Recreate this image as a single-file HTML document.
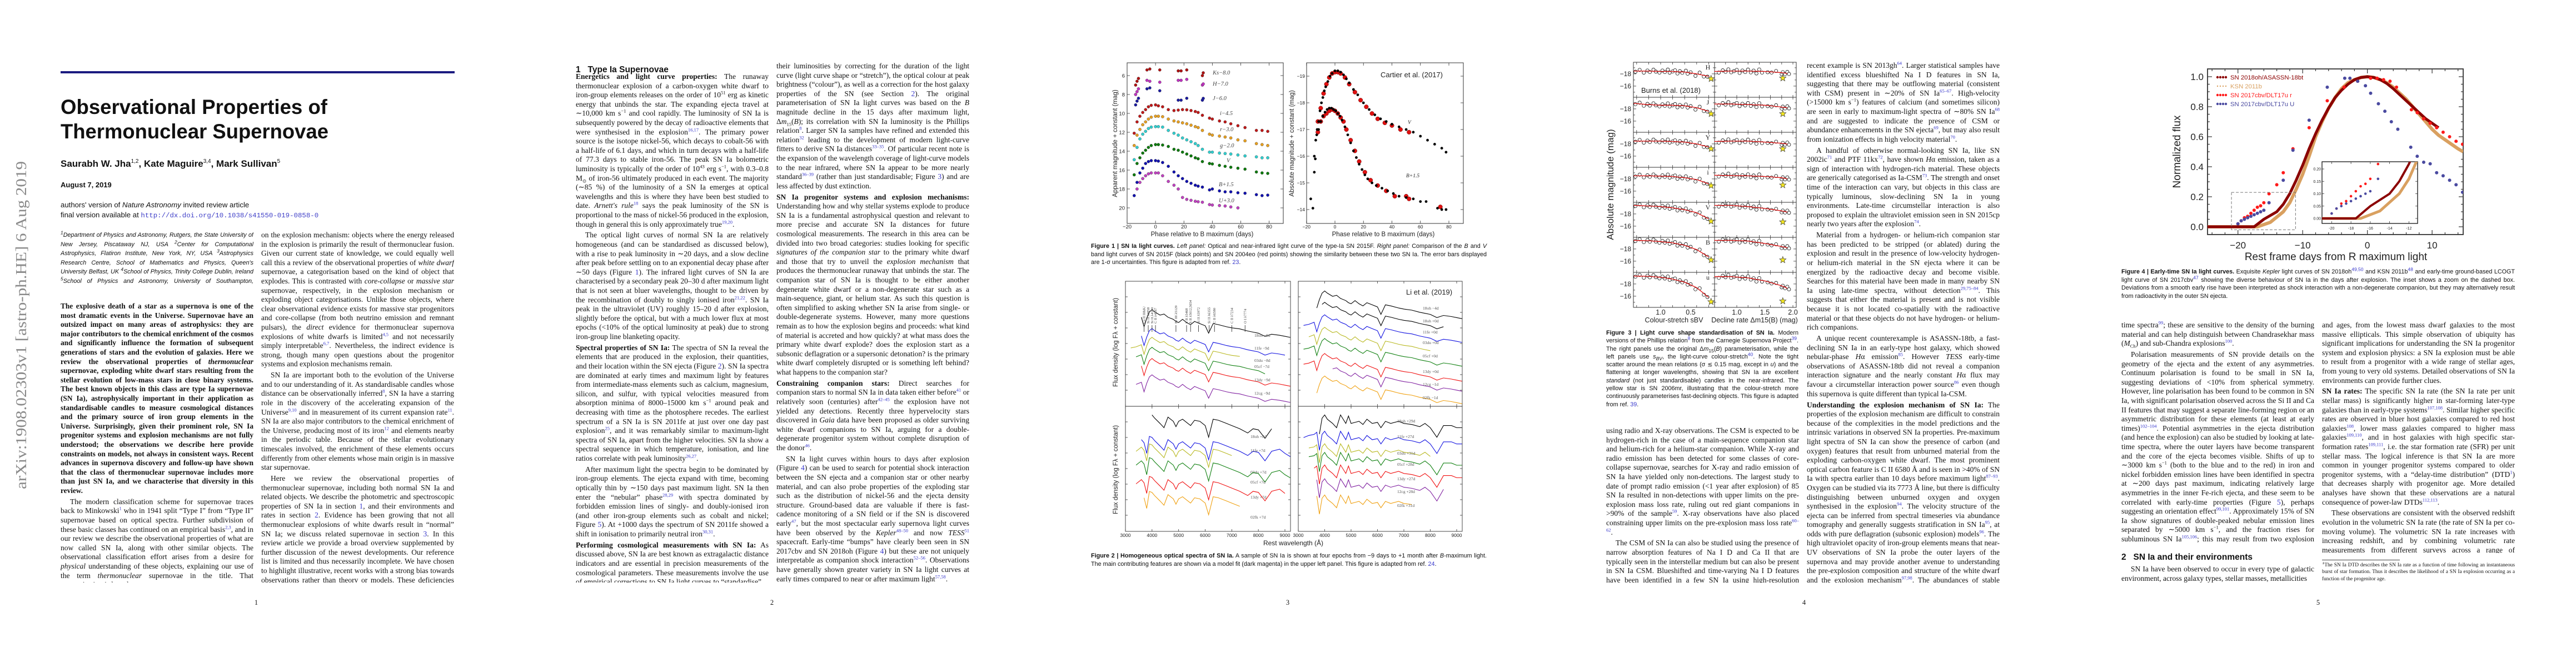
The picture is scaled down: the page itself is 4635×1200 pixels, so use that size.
<!DOCTYPE html>
<html><head><meta charset="utf-8">
<style>
body{margin:0;width:4635px;height:1200px;background:#fff;position:relative;overflow:hidden}
.col{position:absolute;width:347px;font-family:"Liberation Serif",serif;font-size:13.5px;line-height:16.6px;text-align:justify;color:#111;overflow:hidden}
.col p{margin:0}
.col p+p{margin-top:3.3px}
.ind{text-indent:17px}
sup,sub{font-size:8.5px;line-height:0}
.r{color:#3a3acc}
.aff{font-family:"Liberation Sans",sans-serif;font-style:italic;font-size:10.8px}
.cap{position:absolute;font-family:"Liberation Sans",sans-serif;font-size:10.8px;line-height:14.5px;text-align:justify;color:#111}
.pn{position:absolute;top:1077px;width:20px;text-align:center;font:12.5px "Liberation Serif",serif;color:#111}
.h{position:absolute;font-family:"Liberation Sans",sans-serif;font-weight:bold;font-size:15.5px;color:#111}
svg{position:absolute;left:0;top:0}
</style></head>
<body>

<!-- PAGE 1 -->
<div style="position:absolute;left:109px;top:128px;width:709px;height:4px;background:#1b1b80"></div>
<div class="col aff" style="left:109px;top:415px;height:100px">
<sup>1</sup>Department of Physics and Astronomy, Rutgers, the State University of New Jersey, Piscataway NJ, USA <sup>2</sup>Center for Computational Astrophysics, Flatiron Institute, New York, NY, USA <sup>3</sup>Astrophysics Research Centre, School of Mathematics and Physics, Queen's University Belfast, UK <sup>4</sup>School of Physics, Trinity College Dublin, Ireland <sup>5</sup>School of Physics and Astronomy, University of Southampton, Southampton, SO17 1BJ, UK
</div>
<div class="col" style="left:109px;top:543px;height:505px">
<p style="font-size:13.3px"><b>The explosive death of a star as a supernova is one of the most dramatic events in the Universe. Supernovae have an outsized impact on many areas of astrophysics: they are major contributors to the chemical enrichment of the cosmos and significantly influence the formation of subsequent generations of stars and the evolution of galaxies. Here we review the observational properties of <i>thermonuclear</i> supernovae, exploding white dwarf stars resulting from the stellar evolution of low-mass stars in close binary systems. The best known objects in this class are type Ia supernovae (SN Ia), astrophysically important in their application as standardisable candles to measure cosmological distances and the primary source of iron group elements in the Universe. Surprisingly, given their prominent role, SN Ia progenitor systems and explosion mechanisms are not fully understood; the observations we describe here provide constraints on models, not always in consistent ways. Recent advances in supernova discovery and follow-up have shown that the class of thermonuclear supernovae includes more than just SN Ia, and we characterise that diversity in this review.</b></p>
<p class="ind">The modern classification scheme for supernovae traces back to Minkowski<sup class="r">1</sup> who in 1941 split “Type I” from “Type II” supernovae based on optical spectra. Further subdivision of these basic classes has continued on an empirical basis<sup class="r">2,3</sup>, and in our review we describe the observational properties of what are now called SN Ia, along with other similar objects. The observational classification effort arises from a desire for <i>physical</i> understanding of these objects, explaining our use of the term <i>thermonuclear</i> supernovae in the title. That categorisation is based</p>
</div>
<div class="col" style="left:470px;top:415px;height:633px">
<p>on the explosion mechanism: objects where the energy released in the explosion is primarily the result of thermonuclear fusion. Given our current state of knowledge, we could equally well call this a review of the observational properties of <i>white dwarf</i> supernovae, a categorisation based on the kind of object that explodes. This is contrasted with <i>core-collapse</i> or <i>massive star</i> supernovae, respectively, in the explosion mechanism or exploding object categorisations. Unlike those objects, where clear observational evidence exists for massive star progenitors and core-collapse (from both neutrino emission and remnant pulsars), the <i>direct</i> evidence for thermonuclear supernova explosions of white dwarfs is limited<sup class="r">4,5</sup> and not necessarily simply interpretable<sup class="r">6,7</sup>. Nevertheless, the indirect evidence is strong, though many open questions about the progenitor systems and explosion mechanisms remain.</p>
<p class="ind">SN Ia are important both to the evolution of the Universe and to our understanding of it. As standardisable candles whose distance can be observationally inferred<sup class="r">8</sup>, SN Ia have a starring role in the discovery of the accelerating expansion of the Universe<sup class="r">9,10</sup> and in measurement of its current expansion rate<sup class="r">11</sup>. SN Ia are also major contributors to the chemical enrichment of the Universe, producing most of its iron<sup class="r">12</sup> and elements nearby in the periodic table. Because of the stellar evolutionary timescales involved, the enrichment of these elements occurs differently from other elements whose main origin is in massive star supernovae.</p>
<p class="ind">Here we review the observational properties of thermonuclear supernovae, including both normal SN Ia and related objects. We describe the photometric and spectroscopic properties of SN Ia in section <span class="r">1</span>, and their environments and rates in section <span class="r">2</span>. Evidence has been growing that not all thermonuclear explosions of white dwarfs result in “normal” SN Ia; we discuss related supernovae in section <span class="r">3</span>. In this review article we provide a broad overview supplemented by further discussion of the newest developments. Our reference list is limited and thus necessarily incomplete. We have chosen to highlight illustrative, recent works with a strong bias towards observations rather than theory or models. These deficiencies are rectified in recent reviews that cover many of these topics in more detail<sup class="r">13–15</sup>.</p>
</div>
<div class="pn" style="left:451px">1</div>

<!-- PAGE 2 -->
<div class="h" style="left:1036px;top:117px">1&nbsp;&nbsp;&nbsp;Type Ia Supernovae</div>
<div class="col" style="left:1036px;top:130px;height:918px">
<p><b>Energetics and light curve properties:</b> The runaway thermonuclear explosion of a carbon-oxygen white dwarf to iron-group elements releases on the order of 10<sup>51</sup> erg as kinetic energy that unbinds the star. The expanding ejecta travel at ∼10,000 km s<sup>−1</sup> and cool rapidly. The luminosity of SN Ia is subsequently powered by the decay of radioactive elements that were synthesised in the explosion<sup class="r">16,17</sup>. The primary power source is the isotope nickel-56, which decays to cobalt-56 with a half-life of 6.1 days, and which in turn decays with a half-life of 77.3 days to stable iron-56. The peak SN Ia bolometric luminosity is typically of the order of 10<sup>43</sup> erg s<sup>−1</sup>, with 0.3–0.8 M<sub>⊙</sub> of iron-56 ultimately produced in each event. The majority (∼85 %) of the luminosity of a SN Ia emerges at optical wavelengths and this is where they have been best studied to date. <i>Arnett's rule</i><sup class="r">18</sup> says the peak luminosity of the SN is proportional to the mass of nickel-56 produced in the explosion, though in general this is only approximately true<sup class="r">19,20</sup>.</p>
<p class="ind">The optical light curves of normal SN Ia are relatively homogeneous (and can be standardised as discussed below), with a rise to peak luminosity in ∼20 days, and a slow decline after peak before settling on to an exponential decay phase after ∼50 days (Figure <span class="r">1</span>). The infrared light curves of SN Ia are characterised by a secondary peak 20–30 d after maximum light that is not seen at bluer wavelengths, thought to be driven by the recombination of doubly to singly ionised iron<sup class="r">21,22</sup>. SN Ia peak in the ultraviolet (UV) roughly 15–20 d after explosion, slightly before the optical, but with a much lower flux at most epochs (&lt;10% of the optical luminosity at peak) due to strong iron-group line blanketing opacity.</p>
<p><b>Spectral properties of SN Ia:</b> The spectra of SN Ia reveal the elements that are produced in the explosion, their quantities, and their location within the SN ejecta (Figure <span class="r">2</span>). SN Ia spectra are dominated at early times and maximum light by features from intermediate-mass elements such as calcium, magnesium, silicon, and sulfur, with typical velocities measured from absorption minima of 8000–15000 km s<sup>−1</sup> around peak and decreasing with time as the photosphere recedes. The earliest spectrum of a SN Ia is SN 2011fe at just over one day past explosion<sup class="r">25</sup>, and it was remarkably similar to maximum-light spectra of SN Ia, apart from the higher velocities. SN Ia show a spectral sequence in which temperature, ionisation, and line ratios correlate with peak luminosity<sup class="r">26,27</sup>.</p>
<p class="ind">After maximum light the spectra begin to be dominated by iron-group elements. The ejecta expand with time, becoming optically thin by ∼150 days past maximum light. SN Ia then enter the “nebular” phase<sup class="r">28,29</sup> with spectra dominated by forbidden emission lines of singly- and doubly-ionised iron (and other iron-group elements such as cobalt and nickel; Figure <span class="r">5</span>). At +1000 days the spectrum of SN 2011fe showed a shift in ionisation to primarily neutral iron<sup class="r">30,31</sup>.</p>
<p><b>Performing cosmological measurements with SN Ia:</b> As discussed above, SN Ia are best known as extragalactic distance indicators and are essential in precision measurements of the cosmological parameters. These measurements involve the use of empirical corrections to SN Ia light curves to “standardise”</p>
</div>
<div class="col" style="left:1397px;top:111px;height:937px">
<p>their luminosities by correcting for the duration of the light curve (light curve shape or “stretch”), the optical colour at peak brightness (“colour”), as well as a correction for the host galaxy properties of the SN (see Section <span class="r">2</span>). The original parameterisation of SN Ia light curves was based on the <i>B</i> magnitude decline in the 15 days after maximum light, Δ<i>m</i><sub>15</sub>(<i>B</i>); its correlation with SN Ia luminosity is the Phillips relation<sup class="r">8</sup>. Larger SN Ia samples have refined and extended this relation<sup class="r">32</sup> leading to the development of modern light-curve fitters to derive SN Ia distances<sup class="r">33–35</sup>. Of particular recent note is the expansion of the wavelength coverage of light-curve models to the near infrared, where SN Ia appear to be more nearly standard<sup class="r">36–39</sup> (rather than just standardisable; Figure <span class="r">3</span>) and are less affected by dust extinction.</p>
<p><b>SN Ia progenitor systems and explosion mechanisms:</b> Understanding how and why stellar systems explode to produce SN Ia is a fundamental astrophysical question and relevant to more precise and accurate SN Ia distances for future cosmological measurements. The research in this area can be divided into two broad categories: studies looking for specific <i>signatures of the companion star</i> to the primary white dwarf and those that try to unveil the <i>explosion mechanism</i> that produces the thermonuclear runaway that unbinds the star. The companion star of SN Ia is thought to be either another degenerate white dwarf or a non-degenerate star such as a main-sequence, giant, or helium star. As such this question is often simplified to asking whether SN Ia arise from single- or double-degenerate systems. However, many more questions remain as to how the explosion begins and proceeds: what kind of material is accreted and how quickly? at what mass does the primary white dwarf explode? does the explosion start as a subsonic deflagration or a supersonic detonation? is the primary white dwarf completely disrupted or is something left behind? what happens to the companion star?</p>
<p><b>Constraining companion stars:</b> Direct searches for companion stars to normal SN Ia in data taken either before<sup class="r">41</sup> or relatively soon (centuries) after<sup class="r">42–45</sup> the explosion have not yielded any detections. Recently three hypervelocity stars discovered in <i>Gaia</i> data have been proposed as older surviving white dwarf companions to SN Ia, arguing for a double-degenerate progenitor system without complete disruption of the donor<sup class="r">46</sup>.</p>
<p class="ind">SN Ia light curves within hours to days after explosion (Figure <span class="r">4</span>) can be used to search for potential shock interaction between the SN ejecta and a companion star or other nearby material, and can also probe properties of the exploding star such as the distribution of nickel-56 and the ejecta density structure. Ground-based data are valuable if there is fast-cadence monitoring of a SN field or if the SN is discovered early<sup class="r">47</sup>, but the most spectacular early supernova light curves have been observed by the <i>Kepler</i><sup class="r">48–50</sup> and now <i>TESS</i><sup class="r">51</sup> spacecraft. Early-time “bumps” have clearly been seen in SN 2017cbv and SN 2018oh (Figure <span class="r">4</span>) but these are not uniquely interpretable as companion shock interaction<sup class="r">52–56</sup>. Observations have generally shown greater variety in SN Ia light curves at early times compared to near or after maximum light<sup class="r">57,58</sup>.</p>
<p class="ind">The presence of circumstellar material (CSM), more likely to arise in the single-degenerate scenario, can be investigated</p>
</div>
<div class="pn" style="left:1379px">2</div>

<!-- PAGE 3 captions -->
<div class="cap" style="left:1963px;top:436px;width:712px"><b>Figure 1 | SN Ia light curves.</b> <i>Left panel:</i> Optical and near-infrared light curve of the type-Ia SN 2015F. <i>Right panel:</i> Comparison of the <i>B</i> and <i>V</i> band light curves of SN 2015F (black points) and SN 2004eo (red points) showing the similarity between these two SN Ia. The error bars displayed are 1-σ uncertainties. This figure is adapted from ref. <span class="r">23</span>.</div>
<div class="cap" style="left:1963px;top:993px;width:712px"><b>Figure 2 | Homogeneous optical spectra of SN Ia.</b> A sample of SN Ia is shown at four epochs from −9 days to +1 month after <i>B</i>-maximum light. The main contributing features are shown via a model fit (dark magenta) in the upper left panel. This figure is adapted from ref. <span class="r">24</span>.</div>
<div class="pn" style="left:2307px">3</div>

<!-- PAGE 4 -->
<div class="cap" style="left:2890px;top:592px;width:346px;line-height:14.3px"><b>Figure 3 | Light curve shape standardisation of SN Ia.</b> Modern versions of the Phillips relation<sup class="r">8</sup> from the Carnegie Supernova Project<sup class="r">39</sup>. The right panels use the original Δ<i>m</i><sub>15</sub>(<i>B</i>) parameterisation, while the left panels use <i>s<sub>BV</sub></i>, the light-curve colour-stretch<sup class="r">40</sup>. Note the tight scatter around the mean relations (σ ≲ 0.15 mag, except in <i>u</i>) and the flattening at longer wavelengths, showing that SN Ia are excellent <i>standard</i> (not just standardisable) candles in the near-infrared. The yellow star is SN 2006mr, illustrating that the colour-stretch more continuously parameterises fast-declining objects. This figure is adapted from ref. <span class="r">39</span>.</div>
<div class="col" style="left:2890px;top:767px;height:281px">
<p>using radio and X-ray observations. The CSM is expected to be hydrogen-rich in the case of a main-sequence companion star and helium-rich for a helium-star companion. While X-ray and radio emission has been detected for some classes of core-collapse supernovae, searches for X-ray and radio emission of SN Ia have yielded only non-detections. The largest study to date of prompt radio emission (&lt;1 year after explosion) of 85 SN Ia resulted in non-detections with upper limits on the pre-explosion mass loss rate, ruling out red giant companions in &gt;90% of the sample<sup class="r">59</sup>. X-ray observations have also placed constraining upper limits on the pre-explosion mass loss rate<sup class="r">60–62</sup>.</p>
<p class="ind">The CSM of SN Ia can also be studied using the presence of narrow absorption features of Na I D and Ca II that are typically seen in the interstellar medium but can also be present in SN Ia CSM. Blueshifted and time-varying Na I D features have been identified in a few SN Ia using high-resolution spectroscopy<sup class="r">63</sup>; a</p>
</div>
<div class="col" style="left:3251px;top:110px;height:938px">
<p>recent example is SN 2013gh<sup class="r">64</sup>. Larger statistical samples have identified excess blueshifted Na I D features in SN Ia, suggesting that there may be outflowing material (consistent with CSM) present in ∼20% of SN Ia<sup class="r">65–67</sup>. High-velocity (&gt;15000 km s<sup>−1</sup>) features of calcium (and sometimes silicon) are seen in early to maximum-light spectra of ∼80% SN Ia<sup class="r">68</sup> and are suggested to indicate the presence of CSM or abundance enhancements in the SN ejecta<sup class="r">69</sup>, but may also result from ionization effects in high velocity material<sup class="r">70</sup>.</p>
<p class="ind">A handful of otherwise normal-looking SN Ia, like SN 2002ic<sup class="r">71</sup> and PTF 11kx<sup class="r">72</sup>, have shown <i>H</i>α emission, taken as a sign of interaction with hydrogen-rich material. These objects are generically categorised as Ia-CSM<sup class="r">73</sup>. The strength and onset time of the interaction can vary, but objects in this class are typically luminous, slow-declining SN Ia in young environments. Late-time circumstellar interaction is also proposed to explain the ultraviolet emission seen in SN 2015cp nearly two years after the explosion<sup class="r">74</sup>.</p>
<p class="ind">Material from a hydrogen- or helium-rich companion star has been predicted to be stripped (or ablated) during the explosion and result in the presence of low-velocity hydrogen- or helium-rich material in the SN ejecta where it can be energized by the radioactive decay and become visible. Searches for this material have been made in many nearby SN Ia using late-time spectra, without detection<sup class="r">29,75–84</sup>. This suggests that either the material is present and is not visible because it is not located co-spatially with the radioactive material or that these objects do not have hydrogen- or helium-rich companions.</p>
<p class="ind">A unique recent counterexample is ASASSN-18tb, a fast-declining SN Ia in an early-type host galaxy, which showed nebular-phase <i>H</i>α emission<sup class="r">85</sup>. However <i>TESS</i> early-time observations of ASASSN-18tb did not reveal a companion interaction signature and the nearly constant <i>H</i>α flux may favour a circumstellar interaction power source<sup class="r">86</sup> even though this supernova is quite different than typical Ia-CSM.</p>
<p><b>Understanding the explosion mechanism of SN Ia:</b> The properties of the explosion mechanism are difficult to constrain because of the complexities in the model predictions and the intrinsic variations in observed SN Ia properties. Pre-maximum light spectra of SN Ia can show the presence of carbon (and oxygen) features that result from unburned material from the exploding carbon-oxygen white dwarf. The most prominent optical carbon feature is C II 6580 Å and is seen in &gt;40% of SN Ia with spectra earlier than 10 days before maximum light<sup class="r">87–93</sup>. Oxygen can be studied via its 7773 Å line, but there is difficulty distinguishing between unburned oxygen and oxygen synthesised in the explosion<sup class="r">94</sup>. The velocity structure of the ejecta can be inferred from spectral timeseries via abundance tomography and generally suggests stratification in SN Ia<sup class="r">95</sup>, at odds with pure deflagration (subsonic explosion) models<sup class="r">96</sup>. The high ultraviolet opacity of iron-group elements means that near-UV observations of SN Ia probe the outer layers of the supernova and may provide another avenue to understanding the pre-explosion composition and structure of the white dwarf and the explosion mechanism<sup class="r">97,98</sup>. The abundances of stable iron-group elements (requiring a neutron excess) can be inferred from late-</p>
</div>
<div class="pn" style="left:3236px">4</div>

<!-- PAGE 5 -->
<div class="cap" style="left:3817px;top:482px;width:708px;line-height:14.6px"><b>Figure 4 | Early-time SN Ia light curves.</b> Exquisite <i>Kepler</i> light curves of SN 2018oh<sup class="r">49,50</sup> and KSN 2011b<sup class="r">48</sup> and early-time ground-based LCOGT light curve of SN 2017cbv<sup class="r">47</sup> showing the diverse behaviour of SN Ia in the days after explosion. The inset shows a zoom on the dashed box. Deviations from a smooth early rise have been interpreted as shock interaction with a non-degenerate companion, but they may alternatively result from radioactivity in the outer SN ejecta.</div>
<div class="col" style="left:3817px;top:577px;height:400px">
<p>time spectra<sup class="r">99</sup>; these are sensitive to the density of the burning material and can help distinguish between Chandrasekhar mass (<i>M</i><sub>Ch</sub>) and sub-Chandra explosions<sup class="r">100</sup>.</p>
<p class="ind">Polarisation measurements of SN provide details on the geometry of the ejecta and the extent of any asymmetries. Continuum polarisation is found to be small in SN Ia, suggesting deviations of &lt;10% from spherical symmetry. However, line polarisation has been found to be common in SN Ia, with significant polarisation observed across the Si II and Ca II features that may suggest a separate line-forming region or an asymmetric distribution for these elements (at least at early times)<sup class="r">102–104</sup>. Potential asymmetries in the ejecta distribution (and hence the explosion) can also be studied by looking at late-time spectra, where the outer layers have become transparent and the core of the ejecta becomes visible. Shifts of up to ∼3000 km s<sup>−1</sup> (both to the blue and to the red) in iron and nickel forbidden emission lines have been identified in spectra at ∼200 days past maximum, indicating relatively large asymmetries in the inner Fe-rich ejecta, and these seem to be correlated with early-time properties (Figure <span class="r">5</span>), perhaps suggesting an orientation effect<sup class="r">99,101</sup>. Approximately 15% of SN Ia show signatures of double-peaked nebular emission lines separated by ∼5000 km s<sup>−1</sup>, and the fraction rises for subluminous SN Ia<sup class="r">105,106</sup>; this may result from two explosion sites in a white dwarf collision model.</p>
</div>
<div class="h" style="left:3817px;top:994px">2&nbsp;&nbsp;&nbsp;SN Ia and their environments</div>
<div class="col" style="left:3817px;top:1016px;height:34px">
<p class="ind">SN Ia have been observed to occur in every type of galactic environment, across galaxy types, stellar masses, metallicities</p>
</div>
<div class="col" style="left:4178px;top:577px;height:418px">
<p>and ages, from the lowest mass dwarf galaxies to the most massive ellipticals. This simple observation of ubiquity has significant implications for understanding the SN Ia progenitor system and explosion physics: a SN Ia explosion must be able to result from a progenitor with a wide range of stellar ages, from young to very old systems. Detailed observations of SN Ia environments can provide further clues.</p>
<p><b>SN Ia rates:</b> The specific SN Ia rate (the SN Ia rate per unit stellar mass) is significantly higher in star-forming later-type galaxies than in early-type systems<sup class="r">107,108</sup>. Similar higher specific rates are observed in bluer host galaxies compared to red host galaxies<sup class="r">108</sup>, lower mass galaxies compared to higher mass galaxies<sup class="r">109,110</sup>, and in host galaxies with high specific star-formation rates<sup class="r">109,111</sup>, i.e. the star formation rate (SFR) per unit stellar mass. The logical inference is that SN Ia are more common in younger progenitor systems compared to older progenitor systems, with a “delay-time distribution” (DTD<sup class="r">1</sup>) that decreases sharply with progenitor age. More detailed analyses have shown that these observations are a natural consequence of power-law DTDs<sup class="r">112,113</sup>.</p>
<p class="ind">These observations are consistent with the observed redshift evolution in the volumetric SN Ia rate (the rate of SN Ia per co-moving volume). The volumetric SN Ia rate increases with increasing redshift, and by combining volumetric rate measurements from different surveys across a range of redshifts, sev-</p>
</div>
<div style="position:absolute;left:4178px;top:1007px;width:140px;height:1px;background:#444"></div>
<div class="col" style="left:4178px;top:1011px;font-size:9.4px;line-height:12.3px;height:40px"><sup>1</sup>The SN Ia DTD describes the SN Ia rate as a function of time following an instantaneous burst of star formation. Thus it describes the likelihood of a SN Ia explosion occurring as a function of the progenitor age.</div>
<div class="pn" style="left:4161px">5</div>

<svg id="charts" width="4635" height="1200" viewBox="0 0 4635 1200">
<defs>
<clipPath id="c4"><rect x="3972" y="124" width="460" height="298"/></clipPath>
<clipPath id="c4i"><rect x="4178" y="291" width="172" height="111"/></clipPath>
<clipPath id="c3"><rect x="2939" y="112" width="293" height="441"/></clipPath>
</defs>
<text transform="translate(47,880) rotate(-90)" font-family="Liberation Serif, serif" font-size="27" fill="#8a8a8a" textLength="590" lengthAdjust="spacingAndGlyphs">arXiv:1908.02303v1  [astro-ph.HE]  6 Aug 2019</text>
<text x="109" y="205" font-family="Liberation Sans, sans-serif" font-weight="bold" font-size="37" fill="#111" textLength="480" lengthAdjust="spacingAndGlyphs">Observational Properties of</text>
<text x="109" y="249" font-family="Liberation Sans, sans-serif" font-weight="bold" font-size="37" fill="#111" textLength="482" lengthAdjust="spacingAndGlyphs">Thermonuclear Supernovae</text>
<text x="109" y="300" font-family="Liberation Sans, sans-serif" font-weight="bold" font-size="17" fill="#111">Saurabh W. Jha<tspan font-size="10" dy="-7" font-weight="normal">1,2</tspan><tspan dy="7">, Kate Maguire</tspan><tspan font-size="10" dy="-7" font-weight="normal">3,4</tspan><tspan dy="7">, Mark Sullivan</tspan><tspan font-size="10" dy="-7" font-weight="normal">5</tspan></text>
<text x="109" y="337" font-family="Liberation Sans, sans-serif" font-weight="bold" font-size="13" fill="#111">August 7, 2019</text>
<text x="109" y="373" font-family="Liberation Sans, sans-serif" font-size="13.2" fill="#111">authors' version of <tspan font-style="italic">Nature Astronomy</tspan> invited review article</text>
<text x="109" y="391" font-family="Liberation Sans, sans-serif" font-size="13.2" fill="#111">final version available at <tspan font-family="Liberation Mono, monospace" fill="#4040c8" font-size="12.4">http://dx.doi.org/10.1038/s41550-019-0858-0</tspan></text>
</svg>

<script>
// ---------- DATA: Figure 1 left (SN 2015F multi-band) ----------
const f1OptPhases=[-15,-13,-11,-9,-7,-5,-3,0,2,5,9,13,16,19,22,25,28,30,33,38,40,45,49,53,58,63,71,75,79];
const f1I=[12.1,10.9,10.3,9.9,9.6,9.3,9.15,9.1,9.2,9.3,9.6,9.7,9.65,9.6,9.62,9.7,9.8,9.9,10.2,10.5,10.6,10.8,10.9,11.1,11.3,11.5,11.8,11.8,11.9];
const f1R=[13.4,12.3,11.7,11.2,10.9,10.6,10.4,10.3,10.3,10.35,10.6,10.8,10.9,11.0,11.1,11.25,11.4,11.5,11.8,12.2,12.3,12.4,12.5,12.6,12.8,12.9,13.2,13.3,13.4];
const f1G=[14.9,13.6,12.7,12.2,11.9,11.6,11.45,11.4,11.4,11.45,11.8,12.1,12.3,12.6,12.8,13.0,13.2,13.4,13.8,14.1,14.1,14.2,14.25,14.3,14.4,14.5,14.6,14.7,14.7];
const f1V=[16.5,15.3,14.7,14.2,13.9,13.6,13.4,13.3,13.3,13.35,13.5,13.8,13.9,14.1,14.3,14.5,14.7,14.8,15.1,15.3,15.35,15.5,15.6,15.7,15.8,15.9,16.2,16.3,16.35];
const f1B=[18.7,17.3,16.3,15.8,15.3,15.1,15.0,15.0,15.05,15.2,15.6,16.2,16.6,16.9,17.2,17.4,17.6,17.7,17.8,18.1,18.0,18.2,18.3,18.3,18.4,18.45,18.6,18.7,18.65];
const f1U=[null,18.0,17.3,16.9,16.6,16.4,16.3,16.3,16.3,16.6,17.2,17.6,18.0,18.9,19.1,19.2,19.3,19.35,19.4,19.65,19.7,19.75,19.8,19.9,20.0,null,null,null,null];
const f1NirPhases=[-14,-13,-12,-6,-4,3,16,18,22,33];
const f1Ks=[7.0,6.6,6.3,5.4,5.3,5.4,5.5,5.5,5.4,6.0];
const f1H=[8.0,7.7,7.4,6.5,6.6,6.7,6.5,6.5,6.4,7.0];
const f1J=[9.1,8.7,8.4,7.4,7.3,7.6,8.6,8.6,8.4,8.6];
const f1XTicks=[-20,0,20,40,60,80];
const f1YTicks=[6,8,10,12,14,16,18,20];
// ---------- DATA: Figure 1 right (SN 2015F vs SN 2004eo) ----------
const f1rBlackVPh=[-14.5,-13.5,-12.5,-11.5,-10.5,-9.5,-8.5,-7.5,-6.5,-5,-3.5,-2,0,2,4,6,8,10,13,16,20,24,28,32,36,40,45,50,55,60,65,70,75,78];
const f1rBlackV=[-16.0,-16.6,-17.0,-17.3,-17.7,-18.0,-18.2,-18.45,-18.6,-18.8,-19.0,-19.1,-19.2,-19.2,-19.15,-19.05,-18.9,-18.75,-18.5,-18.3,-18.0,-17.75,-17.55,-17.4,-17.3,-17.2,-17.1,-17.0,-16.9,-16.75,-16.6,-16.45,-16.3,-16.15];
const f1rBlackBPh=[-17,-15.5,-14.5,-13.8,-12.8,-11.5,-10,-8.5,-7,-5.5,-4,-2.5,-1,0.5,2,3.5,5,7,9,11,13,15,17,19,21,23,26,29,33,37,41,45,50,55,60,64,72,75,78];
const f1rBlackB=[-14.4,-14.05,-15.4,-15.9,-16.8,-17.0,-17.3,-17.5,-17.65,-17.75,-17.8,-17.8,-17.75,-17.7,-17.6,-17.5,-17.35,-17.1,-16.8,-16.5,-16.2,-15.95,-15.7,-15.5,-15.3,-15.15,-15.0,-14.9,-14.8,-14.7,-14.6,-14.5,-14.45,-14.4,-14.3,-14.3,-14.05,-14.0,-14.0];
const f1rRedVPh=[-12,-10,-8,-6,-4,-2,0,2,4,7,10,14,18,22,26,30,35,40,46,52];
const f1rRedV=[-17.3,-17.8,-18.35,-18.7,-18.95,-19.1,-19.15,-19.15,-19.1,-18.95,-18.7,-18.4,-18.1,-17.85,-17.6,-17.4,-17.25,-17.15,-17.0,-16.9];
const f1rRedBPh=[-12,-10,-8,-6,-4,-2,0,2,4,6,8,11,14,17,21,25,30,36,42,50,52,74];
const f1rRedB=[-16.9,-17.3,-17.5,-17.6,-17.7,-17.75,-17.7,-17.6,-17.45,-17.3,-17.0,-16.6,-16.2,-15.8,-15.4,-15.1,-14.9,-14.7,-14.5,-14.5,-14.4,-14.1];
const f1rXTicks=[-20,0,20,40,60,80];
const f1rYTicks=[-19,-18,-17,-16,-15,-14];
// ---------- DATA: Figure 2 spectra ----------
const f2Wave=[3200,3400,3600,3700,3800,3900,4000,4100,4300,4450,4600,4800,4900,5000,5150,5300,5450,5600,5800,6000,6130,6300,6500,6800,7000,7300,7600,7800,8000,8250,8500,8800,9000,9200];
const f2EarlyShape=[0.2,0.3,0.5,-0.4,0.4,1.0,1.2,1.0,0.7,0.8,0.5,0.3,0.1,0.0,0.3,0.0,-0.2,0.1,-0.1,-0.3,-1.0,-0.1,-0.2,-0.4,-0.5,-0.6,-0.8,-0.9,-1.0,-1.3,-1.1,-1.2,-1.3,-1.4];
const f2WeekShape=[-0.2,0.0,0.4,0.1,-0.9,0.7,0.6,0.3,-0.2,-0.6,0.4,0.0,-0.5,0.0,0.2,-0.1,-0.4,0.1,0.0,-0.4,-1.5,0.2,0.1,-0.2,-0.4,-0.7,-1.1,-0.7,-0.8,-1.6,-0.7,-0.5,-0.9,-1.2];
const f2MonthShape=[0.0,0.2,0.3,0.5,-1.2,0.3,0.6,0.2,-0.2,-0.6,0.6,-0.2,0.5,-0.2,-0.1,0.0,-0.3,0.2,-0.2,-0.1,-0.6,0.0,-0.2,0.0,-0.2,-0.3,-0.5,-0.2,-0.6,-1.5,-0.4,-0.4,-0.6,-0.6];
const f2TLNames=['18oh  −9d','11fe  −9d','03du  −8d','05cf  −7d','13dy  −9d','12cg  −9d'];
const f2TLLevels=[6.7,5.2,4.5,3.7,2.8,1.5];
const f2TLStart=[3600,3500,3200,3300,3500,3300];
const f2TLEnd=[9200,9000,7500,8300,9200,9200];
const f2TRNames=['18oh  −4d','18oh  +0d','11fe  +0d','03du  +0d','05cf  +0d','13dy  +0d','12cg  −1d','02fk  −1d'];
const f2TRLevels=[8.2,7.3,6.3,5.3,4.4,3.2,2.4,1.4];
const f2TRStart=[3700,3900,3000,3400,3200,3000,4200,3700];
const f2TREnd=[9200,8500,9200,8000,9200,9200,9200,9200];
const f2BLNames=['18oh +8d','11fe +7d','03du +7d','05cf +7d','13dy +7d','02fk +7d'];
const f2BLLevels=[8.8,7.0,6.4,5.3,3.8,2.6];
const f2BLStart=[3950,3500,3300,3300,3400,3700];
const f2BLEnd=[8700,9200,7100,9200,9000,7500];
const f2BRNames=['18oh +29d','11fe +27d','03du +31d','05cf +28d','13dy +27d','12cg +28d','02fk +31d'];
const f2BRLevels=[8.8,7.5,6.5,5.8,4.8,3.7,2.4];
const f2BRStart=[3800,3000,3400,3300,3600,3700,3700];
const f2BREnd=[9200,9200,8000,9200,9200,8600,7500];
const f2LineIds=['Ca II H&K/','Si II λ3858','Si II λ4130','C II λ4267','Fe III λ5129','S II λ5468','S II λ5612,5654','Si II λ5972','Si II λ6355','C II λ6580','C II λ7234','O I λ7774'];
const f2LineWave=[3700,3858,4000,4130,4900,5300,5450,5750,6150,6350,7000,7500];
const f2XTicks=[3000,4000,5000,6000,7000,8000,9000];
// ---------- DATA: Figure 3 Phillips relations ----------
const f3Bands=['H','J','Y','i','V','B','u'];
const f3SbvNodes=[1.45,1.2,1.0,0.8,0.6,0.4,0.2,0.15];
const f3FitH=[-18.45,-18.45,-18.4,-18.4,-18.3,-18.0,-17.6,-17.5];
const f3FitJ=[-18.9,-18.7,-18.6,-18.6,-18.5,-18.2,-17.6,-17.4];
const f3FitY=[-18.45,-18.45,-18.45,-18.4,-18.3,-18.0,-17.5,-17.3];
const f3FitI=[-18.5,-18.5,-18.45,-18.4,-18.2,-17.9,-17.2,-17.0];
const f3FitV=[-19.4,-19.3,-19.2,-19.0,-18.7,-18.2,-17.2,-16.8];
const f3FitB=[-19.4,-19.35,-19.2,-19.0,-18.6,-17.9,-16.7,-16.2];
const f3FitU=[-19.3,-19.25,-19.1,-18.8,-18.3,-17.4,-15.8,-15.2];
const f3DmNodes=[0.6,0.9,1.2,1.5,1.8,1.95];
const f3DmFitH=[-18.4,-18.45,-18.45,-18.4,-18.2,-18.0];
const f3DmFitJ=[-18.8,-18.8,-18.7,-18.6,-18.3,-18.1];
const f3DmFitY=[-18.4,-18.45,-18.45,-18.3,-18.1,-17.9];
const f3DmFitI=[-18.6,-18.55,-18.5,-18.4,-18.2,-17.9];
const f3DmFitV=[-19.4,-19.4,-19.2,-18.9,-18.5,-18.2];
const f3DmFitB=[-19.4,-19.4,-19.3,-18.9,-18.4,-18.1];
const f3DmFitU=[-19.2,-19.2,-19.0,-18.5,-17.7,-17.1];
const f3StarSbv=0.16, f3StarDm=1.82;
const f3StarMagL=[-17.2,-17.2,-17.2,-16.9,-16.8,-16.2,-15.1];
const f3StarMagR=[-17.3,-17.2,-17.2,-17.0,-16.7,-16.2,-15.2];
const f3SbvPts=[1.42,1.35,1.28,1.22,1.18,1.12,1.08,1.02,0.97,0.93,0.88,0.85,0.8,0.76,0.72,0.68,0.64,0.58,0.55,0.5,0.42,0.35,0.28,0.22];
const f3DmPts=[0.68,0.75,0.8,0.85,0.9,0.95,1.0,1.05,1.1,1.15,1.2,1.25,1.3,1.35,1.4,1.45,1.55,1.62,1.7,1.8,1.82,1.86,1.9,1.93];
const f3Resid=[0.1,-0.2,0.25,-0.1,0.15,-0.25,0.05,0.2,-0.15,0.1,-0.3,0.2,0.0,-0.2,0.3,-0.1,0.15,-0.25,0.2,-0.1,0.35,-0.3,0.2,0.1];
const f3SbvTicks=[1.0,0.5];
const f3DmTicks=[1.0,1.5,2.0];
// ---------- DATA: Figure 4 early light curves ----------
const f4OhPh=[-24.7,-17.5,-16,-14,-13,-12,-11,-10,-9,-8,-7,-6,-5,-4,-3,-2,-1,0,1,2,3,4,5,6,7,8,9,10,11];
const f4Oh=[0,0,0.05,0.1,0.15,0.22,0.31,0.41,0.52,0.62,0.71,0.79,0.86,0.91,0.95,0.98,0.995,1.0,0.995,0.98,0.955,0.92,0.88,0.84,0.8,0.76,0.72,0.69,0.66];
const f4KsnPh=[-24.7,-17,-15,-13,-12,-11,-10,-9,-8,-7,-6,-5,-4,-3,-2,-1,0,1,2,3,4,5,6,7,8,9,10,11,12,13,14,14.8];
const f4Ksn=[0,0,0.03,0.1,0.16,0.25,0.35,0.47,0.6,0.7,0.79,0.86,0.92,0.96,0.98,0.995,1.0,0.995,0.98,0.96,0.93,0.89,0.85,0.8,0.75,0.7,0.65,0.61,0.58,0.55,0.52,0.5];
const f4RPh=[-20,-19.5,-19,-18.5,-18,-17.5,-17,-16.5,-16,-15.2,-14,-13,-11.5,-9,-6.2,-3.6,-1.5,0.5,1.5,2.5,3.5,4.5,6.8,7.7,8.7,9.7,10.7,11.7,12.7,13.7,14.7];
const f4R=[0.02,0.04,0.06,0.07,0.09,0.11,0.13,0.14,0.16,0.22,0.28,0.36,0.52,0.66,0.84,0.93,0.97,0.99,0.99,0.98,0.97,0.93,0.78,0.76,0.72,0.69,0.66,0.63,0.6,0.57,0.55];
const f4UPh=[-20,-19.5,-19,-18.5,-18,-17.5,-17,-16.5,-16,-15.2,-13,-11.5,-9,-6.2,-3.5,-2.7,-1.5,-0.3,0.5,1.7,2.7,3.7,4.7,6.7,7.7,8.7,9.7,10.7,11.7,12.7,13.7,14.7];
const f4U=[0.02,0.04,0.05,0.06,0.07,0.08,0.09,0.1,0.11,0.16,0.31,0.51,0.71,0.93,0.99,0.99,0.97,0.94,0.89,0.82,0.77,0.7,0.65,0.53,0.47,0.43,0.42,0.36,0.34,0.31,0.28,0.23];
const f4XTicks=[-20,-10,0,10];
const f4YTicks=[0,0.2,0.4,0.6,0.8,1.0];
const f4InsetXTicks=[-20,-18,-16,-14,-12];
const f4InsetYTicks=[0,0.05,0.1,0.15,0.2];
const f4Legend=['SN 2018oh/ASASSN-18bt','KSN 2011b','SN 2017cbv/DLT17u r','SN 2017cbv/DLT17u U'];

// ---------- helpers ----------
const NS='http://www.w3.org/2000/svg';
const root=document.getElementById('charts');
function el(tag,parent,attrs){const e=document.createElementNS(NS,tag);for(const k in attrs)e.setAttribute(k,attrs[k]);parent.appendChild(e);return e;}
function lin(d0,d1,r0,r1){return v=>r0+(v-d0)*(r1-r0)/(d1-d0);}
function group(name){const g=el('g',root,{});return g;}
function fmt(v,d){const s=Math.abs(v).toFixed(d);return (v<0?'−':'')+s;}
function interp(xs,ys,x){
  const asc=xs[xs.length-1]>xs[0];
  for(let i=0;i<xs.length-1;i++){
    const a=xs[i],b=xs[i+1];
    if(asc?(x>=a&&x<=b):(x<=a&&x>=b)){return ys[i]+(ys[i+1]-ys[i])*(x-a)/(b-a);}
  }
  return (asc?x<xs[0]:x>xs[0])?ys[0]:ys[ys.length-1];
}
function frameRect(g,x0,y0,x1,y1,w){const r=el('rect',g,{x:x0,y:y0,width:x1-x0,height:y1-y0,fill:'none',stroke:'#333','stroke-width':w||1});return r;}
function tick(g,x1,y1,x2,y2,w){const t=el('line',g,{x1:x1,y1:y1,x2:x2,y2:y2,stroke:'#333','stroke-width':w||0.8});return t;}
function txt(g,name,x,y,s,size,anchor,extra){
  const a=Object.assign({x:x,y:y,'font-size':size,'text-anchor':anchor||'middle','font-family':'Liberation Sans, sans-serif',fill:'#222'},extra||{});
  const t=el('text',g,a);t.textContent=s;
  
  
  return t;
}
function dot(g,name,cx,cy,r,fill,stroke,sw){const c=el('circle',g,{cx:cx,cy:cy,r:r,fill:fill,stroke:stroke||'none','stroke-width':sw||0.6});return c;}

// ---------- Figure 1 left ----------
(function(){
  const g=group('figure1-left-panel');
  const sx=lin(-20,80,2028,2283.6), sy=lin(6,20,136,374);
  frameRect(g,2028,113,2309,402);
  f1XTicks.forEach(v=>{const x=sx(v);tick(g,x,402,x,397);tick(g,x,113,x,118);txt(g,'x-tick-label',x,411,fmt(v,0),9.5);});
  f1YTicks.forEach(v=>{const y=sy(v);tick(g,2028,y,2033,y);tick(g,2309,y,2304,y);txt(g,'y-tick-label',2024,y+3.5,String(v),9.5,'end');});
  txt(g,'x-axis-title',2163,425,'Phase relative to B maximum (days)',11.5);
  txt(g,'y-axis-title',0,0,'Apparent magnitude + constant (mag)',11.5,'middle',{transform:'translate(2010,258) rotate(-90)'});
  const opt=[[f1I,'#c01818','i−4.5',2195,207],[f1R,'#e8a020','r−3.0',2195,236],[f1G,'#30d0d0','g−2.0',2195,265],[f1V,'#0a7a0a','V',2207,292],[f1B,'#1010b0','B+1.5',2193,335],[f1U,'#c040c0','U+3.0',2193,364]];
  opt.forEach(b=>{
    b[0].forEach((m,i)=>{if(m===null)return;dot(g,'light-curve-point',sx(f1OptPhases[i]),sy(m),2.6,b[1],'#333',0.4);});
    txt(g,'band-label',b[3],b[4],b[2],10.5,'start',{'font-family':'Liberation Serif, serif','font-style':'italic',fill:'#444'});
  });
  const nir=[[f1Ks,'#b01010','Ks−8.0',2182,134],[f1H,'#c030c0','H−7.0',2182,154],[f1J,'#1a1aa0','J−6.0',2182,180]];
  nir.forEach(b=>{
    b[0].forEach((m,i)=>{dot(g,'light-curve-point',sx(f1NirPhases[i]),sy(m),2.6,b[1],'#333',0.4);});
    dot(g,'band-marker',2165,b[4]-3,2.6,b[1],'#333',0.4);
    txt(g,'band-label',b[3],b[4],b[2],10.5,'start',{'font-family':'Liberation Serif, serif','font-style':'italic',fill:'#444'});
  });
})();

// ---------- Figure 1 right ----------
(function(){
  const g=group('figure1-right-panel');
  const sx=lin(0,80,2402,2607), sy=lin(-19,-14,137,377);
  frameRect(g,2351,113,2633,402);
  f1rXTicks.forEach(v=>{const x=sx(v);tick(g,x,402,x,397);tick(g,x,113,x,118);txt(g,'x-tick-label',x,411,fmt(v,0),8.5);});
  f1rYTicks.forEach(v=>{const y=sy(v);tick(g,2351,y,2356,y);tick(g,2633,y,2628,y);txt(g,'y-tick-label',2348,y+3,fmt(v,0),8.5,'end');});
  txt(g,'x-axis-title',2489,425,'Phase relative to B maximum (days)',11.5);
  txt(g,'y-axis-title',0,0,'Absolute magnitude + constant (mag)',11.5,'middle',{transform:'translate(2328,258) rotate(-90)'});
  txt(g,'chart-credit',2484,139,'Cartier et al. (2017)',13,'start');
  txt(g,'band-label',2533,223,'V',9.5,'start',{'font-family':'Liberation Serif, serif','font-style':'italic'});
  txt(g,'band-label',2530,319,'B+1.5',9.5,'start',{'font-family':'Liberation Serif, serif','font-style':'italic'});
  f1rRedVPh.forEach((p,i)=>dot(g,'sn2004eo-v-point',sx(p),sy(f1rRedV[i]),3.8,'#e01010','#600',0.5));
  f1rRedBPh.forEach((p,i)=>dot(g,'sn2004eo-b-point',sx(p),sy(f1rRedB[i]),3.8,'#e01010','#600',0.5));
  f1rBlackVPh.forEach((p,i)=>dot(g,'sn2015f-v-point',sx(p),sy(f1rBlackV[i]),2.4,'#000'));
  f1rBlackBPh.forEach((p,i)=>dot(g,'sn2015f-b-point',sx(p),sy(f1rBlackB[i]),2.4,'#000'));
})();

// ---------- Figure 2 ----------
(function(){
  const AMP=0.85;
  const panels=[
    {name:'figure2-top-left-panel',x0:2025,x1:2322,y0:506,sx:lin(3000,9000,2025,2312),shape:f2EarlyShape,names:f2TLNames,lev:f2TLLevels,st:f2TLStart,en:f2TLEnd,cols:['#000','#1010e0','#b8b820','#108010','#f01010','#8020a0'],lx:2257,ly:[606,629,651,662,686,710]},
    {name:'figure2-top-right-panel',x0:2336,x1:2631,y0:506,sx:lin(3000,9000,2336,2621),shape:f2EarlyShape,names:f2TRNames,lev:f2TRLevels,st:f2TRStart,en:f2TREnd,cols:['#000','#000','#1010e0','#b8b820','#108010','#f01010','#8020a0','#f0a010'],lx:2560,ly:[557,580,600,619,643,671,694,718]},
    {name:'figure2-bottom-left-panel',x0:2025,x1:2322,y0:731,sx:lin(3000,9000,2025,2312),shape:f2WeekShape,names:f2BLNames,lev:f2BLLevels,st:f2BLStart,en:f2BLEnd,cols:['#000','#1010e0','#b8b820','#108010','#f01010','#f0a010'],lx:2250,ly:[788,813,852,870,897,933]},
    {name:'figure2-bottom-right-panel',x0:2336,x1:2631,y0:731,sx:lin(3000,9000,2336,2621),shape:f2MonthShape,names:f2BRNames,lev:f2BRLevels,st:f2BRStart,en:f2BREnd,cols:['#000','#1010e0','#b8b820','#108010','#f01010','#8020a0','#f0a010'],lx:2514,ly:[760,788,818,838,864,887,912]}
  ];
  panels.forEach(P=>{
    const g=group(P.name);
    frameRect(g,P.x0,P.y0,P.x1,P.y0+225,0.9);
    f2XTicks.forEach(v=>{const x=P.sx(v);tick(g,x,P.y0+225,x,P.y0+221);tick(g,x,P.y0,x,P.y0+4);});
    for(let k=1;k<8;k++){const y=P.y0+k*28;tick(g,P.x0,y,P.x0+4,y);tick(g,P.x1,y,P.x1-4,y);}
    P.names.forEach((nm,j)=>{
      const pts=[];
      f2Wave.forEach((w,i)=>{if(w<P.st[j]||w>P.en[j])return;pts.push(P.sx(w).toFixed(1)+','+(P.y0+225-(P.lev[j]+P.shape[i]*AMP)*22.5).toFixed(1));});
      const pl=el('polyline',g,{points:pts.join(' '),fill:'none',stroke:P.cols[j],'stroke-width':1.1});
      
      
      txt(g,'spectrum-label',P.lx,P.ly[j],nm,7.5,'start',{'font-family':'Liberation Serif, serif',fill:'#555'});
    });
  });
  const gb=group('figure2-axes-text');
  const sxL=lin(3000,9000,2025,2312), sxR=lin(3000,9000,2336,2621);
  f2XTicks.forEach(v=>{txt(gb,'x-tick-label',sxL(v),966,String(v),8.5);txt(gb,'x-tick-label',sxR(v),966,String(v),8.5);});
  txt(gb,'x-axis-title',2327,981,'Rest wavelength (Å)',12);
  txt(gb,'y-axis-title',0,0,'Flux density (log Fλ + constant)',11.5,'middle',{transform:'translate(2011,616) rotate(-90)'});
  txt(gb,'y-axis-title',0,0,'Flux density (log Fλ + constant)',11.5,'middle',{transform:'translate(2011,845) rotate(-90)'});
  txt(gb,'chart-credit',2530,530,'Li et al. (2019)',13,'start');
  f2LineIds.forEach((s,i)=>{const x=sxL(f2LineWave[i]);tick(gb,x,585,x,597,0.9);txt(gb,'line-id-label',0,0,s,6.5,'start',{transform:'translate('+(x+2)+',582) rotate(-90)','font-family':'Liberation Serif, serif',fill:'#333'});});
})();

// ---------- Figure 3 ----------
(function(){
  const g=group('figure3-phillips-relation');
  const sxL=lin(1,0.5,2988,3042), sxR=lin(1,2,3125,3226);
  const fy=(r,m)=>112+r*63+(m+19.9)*11;
  const fitsL=[f3FitH,f3FitJ,f3FitY,f3FitI,f3FitV,f3FitB,f3FitU];
  const fitsR=[f3DmFitH,f3DmFitJ,f3DmFitY,f3DmFitI,f3DmFitV,f3DmFitB,f3DmFitU];
  frameRect(g,2939,112,3232,553,1);
  const dv=el('line',g,{x1:3085,y1:112,x2:3085,y2:553,stroke:'#333','stroke-width':1});
  f3Bands.forEach((b,r)=>{
    if(r>0){const s=el('line',g,{x1:2939,y1:112+r*63,x2:3232,y2:112+r*63,stroke:'#333','stroke-width':1});}
    [-19,-18,-17,-16,-15].forEach(m=>{const y=fy(r,m);const L=(m%2===0)?5:3;tick(g,2939,y,2939+L,y);tick(g,3085,y,3085-L,y);tick(g,3085,y,3085+L,y);tick(g,3232,y,3232-L,y);});
    [-18,-16].forEach(m=>txt(g,'y-tick-label',2935,fy(r,m)+4,fmt(m,0),12,'end'));
    [1.4,1.2,1.0,0.8,0.6,0.4,0.2].forEach(s=>{const x=sxL(s);tick(g,x,112+r*63,x,116+r*63);tick(g,x,175+r*63,x,171+r*63);});
    [0.8,1.0,1.2,1.4,1.6,1.8,2.0].forEach(s=>{const x=sxR(s);tick(g,x,112+r*63,x,116+r*63);tick(g,x,175+r*63,x,171+r*63);});
    txt(g,'band-label',3073,fy(r,-19.9)+13,b,12,'middle',{'font-family':'Liberation Serif, serif'});
    const cl=[],cr=[];
    for(let s=1.45;s>=0.15;s-=0.05)cl.push(sxL(s).toFixed(1)+','+fy(r,interp(f3SbvNodes,fitsL[r],s)).toFixed(1));
    for(let d=0.6;d<=1.95;d+=0.05)cr.push(sxR(d).toFixed(1)+','+fy(r,interp(f3DmNodes,fitsR[r],d)).toFixed(1));
    f3SbvPts.forEach((s,i)=>dot(g,'sn-point-sbv',sxL(s),fy(r,interp(f3SbvNodes,fitsL[r],s)+f3Resid[i]),3,'#fff','#111',0.8));
    f3DmPts.forEach((d,i)=>dot(g,'sn-point-dm15',sxR(d),fy(r,interp(f3DmNodes,fitsR[r],d)+f3Resid[(i+7)%f3Resid.length]),3,'#fff','#111',0.8));
    const p1=el('polyline',g,{points:cl.join(' '),fill:'none',stroke:'#e01010','stroke-width':1.3});
    const p2=el('polyline',g,{points:cr.join(' '),fill:'none',stroke:'#e01010','stroke-width':1.3});
    [[sxL(f3StarSbv),fy(r,f3StarMagL[r])],[sxR(f3StarDm),fy(r,f3StarMagR[r])]].forEach(c=>{
      const pts=[];for(let k=0;k<10;k++){const a=-Math.PI/2+k*Math.PI/5;const rr=k%2?2.6:6.2;pts.push((c[0]+rr*Math.cos(a)).toFixed(1)+','+(c[1]+rr*Math.sin(a)).toFixed(1));}
      const st=el('polygon',g,{points:pts.join(' '),fill:'#f5e820',stroke:'#333','stroke-width':0.7});
    });
  });
  f3SbvTicks.forEach(v=>txt(g,'x-tick-label',sxL(v),566,v.toFixed(1),12.5));
  f3DmTicks.forEach(v=>txt(g,'x-tick-label',sxR(v),566,v.toFixed(1),12.5));
  txt(g,'x-axis-title-left',3012,580,'Colour-stretch sBV',12.5);
  txt(g,'x-axis-title-right',3157,580,'Decline rate Δm15(B) (mag)',12.5);
  txt(g,'y-axis-title',0,0,'Absolute magnitude (mag)',17,'middle',{transform:'translate(2903,332) rotate(-90)'});
  txt(g,'chart-credit',2953,167,'Burns et al. (2018)',13,'start');
})();

// ---------- Figure 4 ----------
(function(){
  const g=group('figure4-early-light-curves');
  const sx=lin(-24.7,14.8,3972,4432), sy=lin(0,1,408,138);
  frameRect(g,3972,124,4432,422,1.8);
  for(let d=-24;d<=14;d+=2){const x=sx(d);const L=(d%10===0)?8:4;tick(g,x,422,x,422-L,1.2);tick(g,x,124,x,124+L,1.2);}
  for(let v=0;v<=1.001;v+=0.05){const y=sy(v);const L=(Math.round(v*100)%20===0)?8:4;tick(g,3972,y,3972+L,y,1.2);tick(g,4432,y,4432-L,y,1.2);}
  f4XTicks.forEach(v=>txt(g,'x-tick-label',sx(v),447,fmt(v,0),17));
  f4YTicks.forEach(v=>txt(g,'y-tick-label',3965,sy(v)+6,v.toFixed(1),17,'end'));
  txt(g,'x-axis-title',4203,468,'Rest frame days from R maximum light',19);
  txt(g,'y-axis-title',0,0,'Normalized flux',19,'middle',{transform:'translate(3923,273) rotate(-90)'});
  const gc=el('g',g,{'clip-path':'url(#c4)'});
  
  
  const ksn=el('polyline',gc,{points:f4KsnPh.map((p,i)=>sx(p).toFixed(1)+','+sy(f4Ksn[i]).toFixed(1)).join(' '),fill:'none',stroke:'#d9a060','stroke-width':6,'stroke-linejoin':'round'});
  
  
  const oh=el('polyline',gc,{points:f4OhPh.map((p,i)=>sx(p).toFixed(1)+','+sy(f4Oh[i]).toFixed(1)).join(' '),fill:'none',stroke:'#8b0000','stroke-width':5,'stroke-linejoin':'round'});
  
  
  f4RPh.forEach((p,i)=>dot(gc,'sn2017cbv-r-point',sx(p),sy(f4R[i]),3,'#ff1a1a'));
  f4UPh.forEach((p,i)=>dot(gc,'sn2017cbv-u-point',sx(p),sy(f4U[i]),3,'#4a4aa0'));
  const box=el('rect',g,{x:sx(-21),y:sy(0.229),width:sx(-11.1)-sx(-21),height:sy(-0.02)-sy(0.229),fill:'none',stroke:'#777','stroke-width':1,'stroke-dasharray':'5,3'});
  
  
  const lc=['#8b0000','#d9a060','#ff1a1a','#4a4aa0'];
  f4Legend.forEach((s,i)=>{
    const y=143+i*16;
    for(let k=0;k<4;k++)dot(g,'legend-marker',3990+k*5,y-4,i===1?1.2:2.2,lc[i]);
    txt(g,'legend-entry',4013,y,s,11.3,'start',{fill:lc[i]});
  });
  const ix=lin(-21,-11.1,4178,4350), iy=lin(0,0.2,393,304);
  const bg=el('rect',g,{x:4178,y:291,width:172,height:111,fill:'#fff',stroke:'#111','stroke-width':1.3});
  
  
  f4InsetXTicks.forEach(v=>{const x=ix(v);tick(g,x,402,x,398);tick(g,x,291,x,295);txt(g,'inset-x-tick-label',x,413,String(v),7);});
  f4InsetYTicks.forEach(v=>{const y=iy(v);tick(g,4178,y,4182,y);tick(g,4350,y,4346,y);txt(g,'inset-y-tick-label',4176,y+2.5,v.toFixed(2),7,'end');});
  const gi=el('g',g,{'clip-path':'url(#c4i)'});
  
  
  const ksnI=el('polyline',gi,{points:f4KsnPh.map((p,i)=>ix(p).toFixed(1)+','+iy(f4Ksn[i]).toFixed(1)).join(' '),fill:'none',stroke:'#d9a060','stroke-width':5});
  
  
  const ohI=el('polyline',gi,{points:f4OhPh.map((p,i)=>ix(p).toFixed(1)+','+iy(f4Oh[i]).toFixed(1)).join(' '),fill:'none',stroke:'#8b0000','stroke-width':4});
  
  
  f4RPh.forEach((p,i)=>dot(gi,'inset-r-point',ix(p),iy(f4R[i]),2.3,'#ff1a1a'));
  f4UPh.forEach((p,i)=>dot(gi,'inset-u-point',ix(p),iy(f4U[i]),2.3,'#4a4aa0'));
})();
</script>
</body></html>
